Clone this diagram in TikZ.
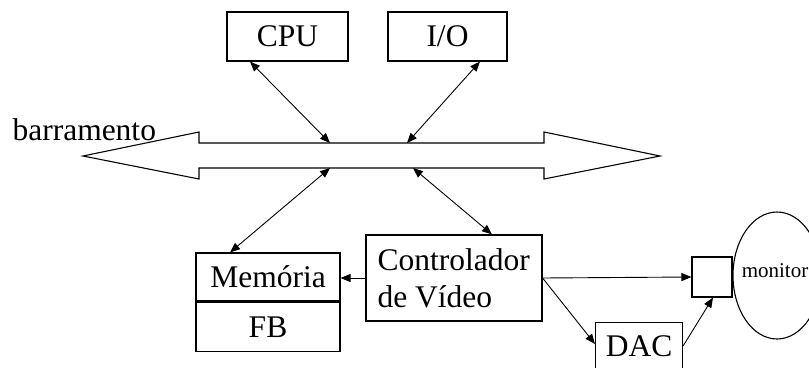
\documentclass[tikz,border=0pt]{standalone}
\usepackage{fontspec}
\setmainfont{Liberation Serif}
\usetikzlibrary{arrows.meta,calc}

\begin{document}
\begin{tikzpicture}[x=1pt,y=-1pt,
  line width=1.1pt,
  big/.style={font=\fontsize{31.5}{37}\selectfont},
  box/.style={draw, big, inner sep=0pt, text height=20.9pt, text depth=0pt},
  link/.style={line width=0.9pt, {Triangle[length=10pt,width=8pt]}-{Triangle[length=10pt,width=8pt]}},
  feed/.style={line width=0.9pt, -{Triangle[length=10pt,width=8pt]}}]

\useasboundingbox (0,0) rectangle (809,367);
\clip (0,0) rectangle (809,367);

% top units
\node[box, minimum width=121pt, minimum height=49pt] (cpu) at (287.5,36.5) {CPU};
\node[box, minimum width=119pt, minimum height=49pt] (io)  at (447.5,36.5) {I/O};

% system bus drawn as a double-headed block arrow
\draw (83,156) -- (199,132) -- (199,143) -- (544,143) -- (544,132) -- (660,156)
      -- (544,179) -- (544,168) -- (199,168) -- (199,179) -- cycle;
\node[big, anchor=base west, inner sep=0pt] (bus) at (12,140) {barramento};

\coordinate (busA) at (330,143);
\coordinate (busB) at (407,143);
\coordinate (busC) at (330,168);
\coordinate (busD) at (413,168);

% memory with frame buffer
\node[box, minimum width=144pt, minimum height=48pt] (mem) at (268,277) {Memória};
\node[box, minimum width=144pt, minimum height=49pt, anchor=north] (fb) at (mem.south) {FB};

% video controller
\node[draw, minimum width=176pt, minimum height=86pt] (ctrl) at (454,278) {};
\node[big, anchor=base west, inner sep=0pt] (ctrlA) at (377,270) {Controlador};
\node[big, anchor=base west, inner sep=0pt] (ctrlB) at (377,307) {de Vídeo};

% DAC, switch square and monitor
\node[box, minimum width=87pt, minimum height=47pt, anchor=north west] (dac) at (595,322) {DAC};
\node[draw, minimum width=40pt, minimum height=40pt, inner sep=0pt] (sw) at (712,277) {};
\draw (777,275.5) ellipse [x radius=44, y radius=63.5];
\node[font=\fontsize{21}{25}\selectfont, anchor=base, inner sep=0pt] (mon) at (775,277) {monitor};

% bus connections
\draw[link] ([xshift=-37.5pt]cpu.south) -- (busA);
\draw[link] ([xshift=32.5pt]io.south) -- (busB);
\draw[link] ([xshift=-38pt]mem.north) -- (busC);
\draw[link] ([xshift=38pt]ctrl.north) -- (busD);

% video path
\draw[feed] (ctrl.west) -- (ctrl.west -| mem.east);
\draw[feed] (ctrl.east) -- ([yshift=-22pt]dac.north west);
\draw[feed] (ctrl.east) -- (sw.west);
\draw[feed] ([yshift=-24pt]dac.north east) -- ([xshift=1pt]sw.south);
\end{tikzpicture}
\end{document}
